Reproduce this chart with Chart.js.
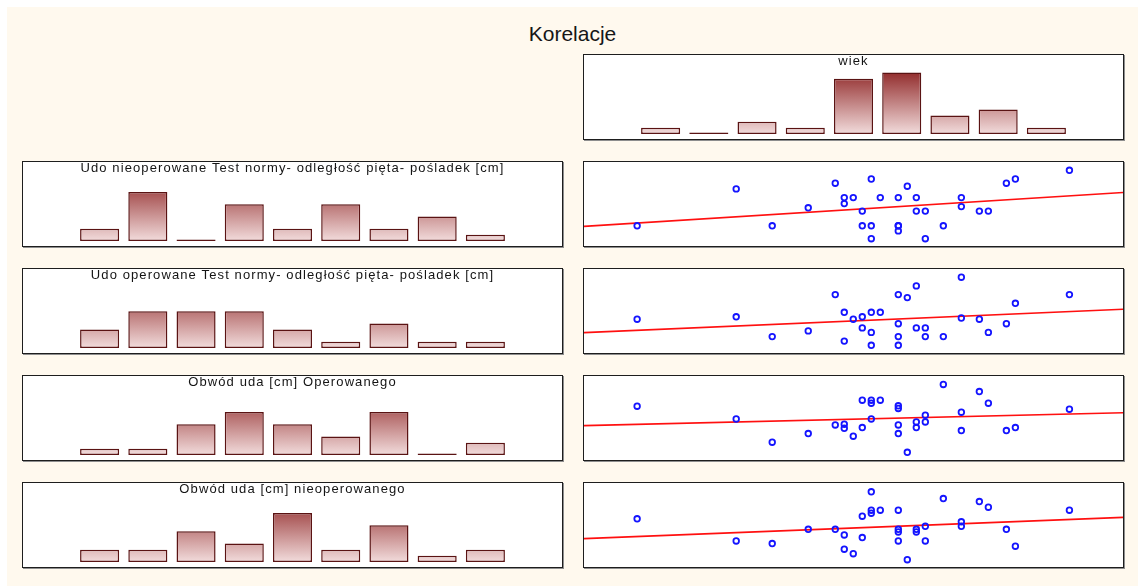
<!DOCTYPE html>
<html>
<head>
<meta charset="utf-8">
<script src="https://cdn.jsdelivr.net/npm/chart.js@4.4.0/dist/chart.umd.min.js"></script>
<style>
    html, body { margin: 0; padding: 0; background: #fff; }
    #page { position: absolute; left: 7px; top: 7px; width: 1131px; height: 579px; background: #fff9ee; }
    #mainTitle { position: absolute; left: 7px; top: 23px; width: 1131px; text-align: center;
        font: 21px "Liberation Sans", Arial, sans-serif; line-height: 21px; color: #161616; }
    .panel { position: absolute; width: 541px; height: 86px; box-sizing: border-box; border: 1px solid #1e1e1e;
        background: #fff; box-shadow: 1px 1px 0 #8e8e8e; }
    .panel canvas { display: block; }
</style>
</head>
<body>
<div id="page"></div>
<div id="mainTitle">Korelacje</div>
<div id="panels"></div>
<script>
// histogram bins (no labels on the picture)
const binLabels = ['1', '2', '3', '4', '5', '6', '7', '8', '9'];

// histogram counts, per variable
const wiekCounts = [1, 0, 2, 1, 9, 10, 3, 4, 1];
const udoNieopCounts = [2, 8, 0, 6, 2, 6, 2, 4, 1];
const udoOpCounts = [3, 6, 6, 6, 3, 1, 4, 1, 1];
const obwodOpCounts = [1, 1, 5, 7, 5, 3, 7, 0, 2];
const obwodNieopCounts = [2, 2, 5, 3, 8, 2, 6, 1, 2];

// raw values, one entry per patient (31)
const wiek = [20, 31, 35, 39, 42, 43, 43, 44, 45, 45, 46, 46, 46, 47, 49, 49, 49, 49, 50, 51, 51, 52, 52, 54, 56, 56, 58, 59, 61, 62, 68];
const udoNieop = [8.3, 20.6, 8.3, 14.3, 22.5, 17.7, 15.7, 17.7, 13.2, 8.3, 23.9, 8.3, 4.0, 17.7, 17.7, 8.3, 8.3, 6.6, 21.5, 17.7, 13.2, 13.2, 4.0, 8.3, 17.7, 14.7, 13.2, 13.2, 22.5, 23.9, 26.8];
const udoOp = [11.7, 12.5, 5.9, 7.8, 19.9, 14.0, 4.4, 11.7, 12.5, 8.8, 14.0, 7.3, 3.0, 14.0, 19.9, 10.2, 5.9, 3.0, 18.9, 22.8, 8.8, 8.8, 5.9, 5.9, 25.7, 12.1, 11.7, 7.3, 10.2, 17.0, 19.9];
const obwodOp = [54.3, 50.9, 44.7, 47.0, 49.3, 49.5, 48.4, 46.3, 55.9, 48.6, 55.9, 55.1, 50.9, 55.9, 54.4, 53.7, 49.3, 47.0, 42.0, 50.1, 48.6, 51.9, 50.1, 60.1, 52.7, 47.8, 58.2, 55.1, 47.8, 48.6, 53.5];
const obwodNieop = [52.9, 47.0, 46.3, 50.1, 50.1, 48.6, 44.8, 43.6, 53.6, 47.9, 60.1, 55.2, 54.4, 55.2, 55.2, 50.1, 49.4, 47.0, 42.0, 50.1, 49.4, 50.9, 47.0, 58.3, 52.1, 50.9, 57.5, 56.0, 50.1, 45.6, 55.2];

const FONT = '"Liberation Sans", Arial, sans-serif';
const AGE_MIN = 14.1, AGE_MAX = 73.95;

// Statistica spaces its letters a bit wider
const spacingPlugin = {
    id: 'spacing',
    beforeDraw(chart) { chart.ctx.letterSpacing = '1.1px'; }
};

function makePanel(left, top) {
    const div = document.createElement('div');
    div.className = 'panel';
    div.style.left = left + 'px';
    div.style.top = top + 'px';
    const cv = document.createElement('canvas');
    cv.width = 539;
    cv.height = 84;
    div.appendChild(cv);
    document.getElementById('panels').appendChild(div);
    return cv.getContext('2d');
}

function barFill(ctx) {
    const area = ctx.chart.chartArea;
    if (!area) return '#d8a8a8';
    const g = ctx.chart.ctx.createLinearGradient(0, area.top, 0, area.bottom);
    g.addColorStop(0, '#922c2c');
    g.addColorStop(1, '#f2dcdc');
    return g;
}

function histogram(left, top, title, counts) {
    new Chart(makePanel(left, top), {
        type: 'bar',
        data: {
            labels: binLabels,
            datasets: [{
                data: counts,
                backgroundColor: barFill,
                borderColor: '#5a1313',
                borderWidth: 1.5,
                borderSkipped: false,
                minBarLength: 1.5,
                barPercentage: 0.81,
                categoryPercentage: 1,
                clip: false
            }]
        },
        options: {
            responsive: false,
            animation: false,
            events: [],
            layout: { padding: { left: 52.5, right: 52.5, top: 0, bottom: 5 }, autoPadding: false },
            scales: {
                x: { display: false },
                y: { display: false, min: 0, max: 10.1 }
            },
            plugins: {
                legend: { display: false },
                tooltip: { enabled: false },
                title: {
                    display: true,
                    text: title,
                    color: '#141414',
                    font: { family: FONT, size: 13, weight: 'normal', lineHeight: 1 },
                    padding: { top: 0, bottom: 4 }
                }
            }
        },
        plugins: [spacingPlugin]
    });
}

function scatter(left, top, values, yMin, yMax) {
    const pts = wiek.map((a, i) => ({ x: a, y: values[i] }));
    // least squares line
    const n = pts.length;
    const mx = wiek.reduce((s, v) => s + v, 0) / n;
    const my = values.reduce((s, v) => s + v, 0) / n;
    let sxy = 0, sxx = 0;
    pts.forEach(p => { sxy += (p.x - mx) * (p.y - my); sxx += (p.x - mx) * (p.x - mx); });
    const b = sxy / sxx, a = my - b * mx;
    const fit = [{ x: AGE_MIN, y: a + b * AGE_MIN }, { x: AGE_MAX, y: a + b * AGE_MAX }];

    new Chart(makePanel(left, top), {
        type: 'scatter',
        data: {
            datasets: [
                {
                    data: pts,
                    pointRadius: 2.8,
                    pointBorderWidth: 1.8,
                    borderColor: '#1414ff',
                    backgroundColor: 'rgba(0,0,0,0)',
                    clip: false,
                    order: 1
                },
                {
                    type: 'line',
                    data: fit,
                    borderColor: '#ff1010',
                    borderWidth: 1.6,
                    pointRadius: 0,
                    order: 2
                }
            ]
        },
        options: {
            responsive: false,
            animation: false,
            events: [],
            layout: { padding: 0, autoPadding: false },
            scales: {
                x: { type: 'linear', display: false, min: AGE_MIN, max: AGE_MAX },
                y: { display: false, min: yMin, max: yMax }
            },
            plugins: { legend: { display: false }, tooltip: { enabled: false } }
        }
    });
}

histogram(583, 54, 'wiek', wiekCounts);

histogram(22, 161, 'Udo nieoperowane Test normy- odległość pięta- pośladek [cm]', udoNieopCounts);
scatter(583, 161, udoNieop, 1.57, 29.57);

histogram(22, 268, 'Udo operowane Test normy- odległość pięta- pośladek [cm]', udoOpCounts);
scatter(583, 268, udoOp, 0.43, 28.43);

histogram(22, 375, 'Obwód uda [cm] Operowanego', obwodOpCounts);
scatter(583, 375, obwodOp, 39.95, 62.35);

histogram(22, 482, 'Obwód uda [cm] nieoperowanego', obwodNieopCounts);
scatter(583, 482, obwodNieop, 40.05, 62.45);
</script>
</body>
</html>
